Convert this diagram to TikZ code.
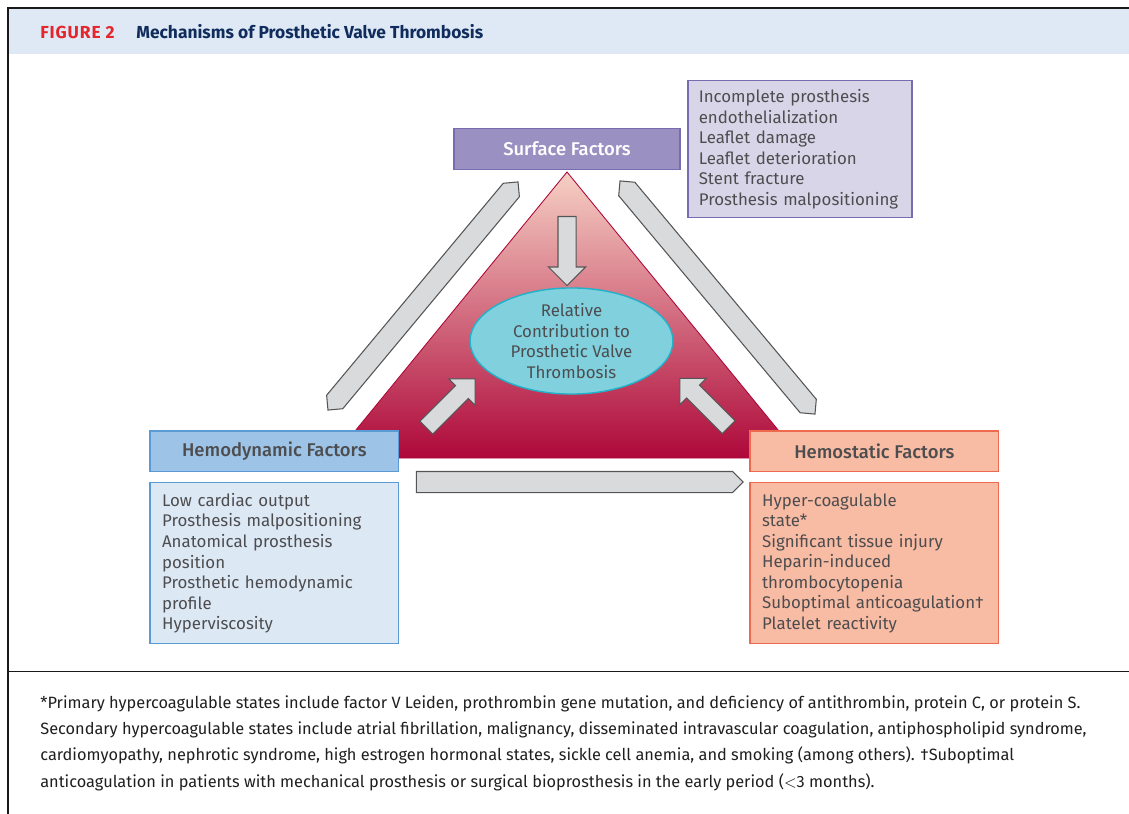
\documentclass[tikz,border=0pt]{standalone}
\usepackage{fontspec}
\setmainfont{Fira Sans}
\newfontfamily\medfont{Fira Sans Medium}
\usepackage{tikz}
\usetikzlibrary{shapes.geometric, shapes.arrows, positioning}

\definecolor{hdrblue}{RGB}{222,233,245}
\definecolor{figred}{RGB}{228,37,43}
\definecolor{navy}{RGB}{16,44,92}
\definecolor{txtgray}{RGB}{77,77,79}
\definecolor{surffill}{RGB}{154,144,194}
\definecolor{surfdraw}{RGB}{120,108,176}
\definecolor{surflight}{RGB}{217,213,233}
\definecolor{hemofill}{RGB}{157,195,230}
\definecolor{hemodraw}{RGB}{91,155,213}
\definecolor{hemolight}{RGB}{221,232,245}
\definecolor{statfill}{RGB}{248,187,163}
\definecolor{statdraw}{RGB}{238,106,79}
\definecolor{tritop}{RGB}{246,208,196}
\definecolor{tribot}{RGB}{174,8,58}
\definecolor{corefill}{RGB}{128,208,222}
\definecolor{coredraw}{RGB}{32,178,200}
\definecolor{arrfill}{RGB}{217,218,220}
\definecolor{arrdraw}{RGB}{85,85,85}

\begin{document}
\begin{tikzpicture}[x=0.02cm, y=-0.02cm, every node/.style={inner sep=0pt, text=txtgray, font=\fontsize{9.6}{11.7}\selectfont},
    factor/.style={draw, line width=0.7pt, minimum width=4.97cm, minimum height=0.81cm, font=\fontsize{10.5}{12}\selectfont\medfont},
    items/.style={draw, line width=0.7pt, inner xsep=0.24cm, text width=4.49cm, minimum height=3.22cm, align=left},
    bigarrow/.style={double arrow, draw=arrdraw, fill=arrfill, line width=0.6pt, double arrow head extend=0pt, double arrow tip angle=90, inner ysep=0.2cm},
    smallarrow/.style={single arrow, draw=arrdraw, fill=arrfill, line width=0.6pt, single arrow head extend=0.19cm, single arrow tip angle=90, inner ysep=0.17cm, minimum height=1.38cm}]
    \useasboundingbox (0,0) rectangle (1129,814);
    \fill[hdrblue] (9,9) rectangle (1129,54);
    \draw[line width=1.1pt, black!90] (8,814) -- (8,8) -- (1129,8);
    \draw[line width=1.1pt, black!90] (8,671.5) -- (1129,671.5);
    \node[anchor=base west, text=figred, font=\fontsize{9.9}{12}\selectfont\bfseries\addfontfeatures{LetterSpace=5}] (fig) at (40,38.5) {FIGURE 2};
    \node[base right=0.42cm of fig, text=navy, font=\fontsize{9.9}{12}\selectfont\bfseries] (title) {Mechanisms of Prosthetic Valve Thrombosis};
    \shade[top color=tritop, bottom color=tribot, draw=tribot, line width=0.5pt] (567,172) -- (801,458) -- (333,458) -- cycle;
    \node[factor, fill=surffill, draw=surfdraw, text=white, minimum width=4.52cm, minimum height=0.82cm] (surface) at (567,149) {Surface Factors};
    \node[items, fill=surflight, draw=surfdraw, inner xsep=0.215cm, text width=4.05cm, minimum height=2.74cm] (surfacelist) at (800,149.3) {Incomplete prosthesis\\endothelialization\\Leaflet damage\\Leaflet deterioration\\Stent fracture\\Prosthesis malpositioning};
    \node[factor, fill=hemofill, draw=hemodraw] (hemodyn) at (274.3,451.3) {Hemodynamic Factors};
    \node[items, fill=hemolight, draw=hemodraw, below=0.2cm of hemodyn] (hemodynlist) {Low cardiac output\\Prosthesis malpositioning\\Anatomical prosthesis\\position\\Prosthetic hemodynamic\\profile\\Hyperviscosity};
    \node[factor, fill=statfill, draw=statdraw] (hemostat) at (874.3,451.3) {Hemostatic Factors};
    \node[items, fill=statfill, draw=statdraw, below=0.2cm of hemostat] (hemostatlist) {Hyper-coagulable\\state*\\Significant tissue injury\\Heparin-induced\\thrombocytopenia\\Suboptimal anticoagulation\textdagger\\Platelet reactivity};
    \node[bigarrow, minimum height=5.94cm, rotate=50.2] (linkhs) at (423,296) {};
    \node[bigarrow, minimum height=6.08cm, rotate=-50.1] (linkss) at (717.5,297.5) {};
    \node[single arrow, draw=arrdraw, fill=arrfill, line width=0.6pt, single arrow head extend=0pt, single arrow tip angle=90, inner ysep=0.2cm, minimum height=6.54cm] (linkhh) at (574.5,482) {};
    \node[smallarrow, rotate=-90] (insurf) at (567,246.5) {};
    \node[smallarrow, rotate=45] (indyn) at (447.5,406.5) {};
    \node[smallarrow, rotate=135] (instat) at (707.5,406) {};
    \node[ellipse, draw=coredraw, fill=corefill, line width=0.8pt, minimum width=4.06cm, minimum height=2.04cm, align=center] (core) at (571.5,341) {Relative\\Contribution to\\Prosthetic Valve\\Thrombosis};
    \node[anchor=north west, align=left, text=black!88, font=\fontsize{9.3}{15}\selectfont] (note) at (40,695) {*Primary hypercoagulable states include factor V Leiden, prothrombin gene mutation, and deficiency of antithrombin, protein C, or protein S.\\Secondary hypercoagulable states include atrial fibrillation, malignancy, disseminated intravascular coagulation, antiphospholipid syndrome,\\cardiomyopathy, nephrotic syndrome, high estrogen hormonal states, sickle cell anemia, and smoking (among others). \textdagger Suboptimal\\anticoagulation in patients with mechanical prosthesis or surgical bioprosthesis in the early period ($<$3 months).};
\end{tikzpicture}
\end{document}
